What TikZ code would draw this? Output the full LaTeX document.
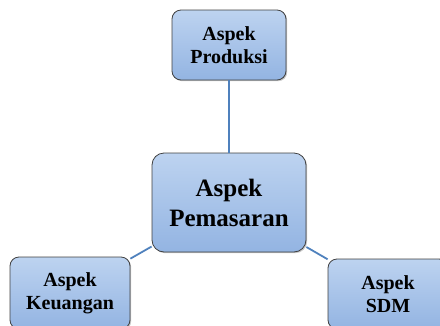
\documentclass[tikz,border=0pt]{standalone}
\usepackage{fontspec}
\setmainfont{Liberation Serif}
\usetikzlibrary{shadows}
\definecolor{kotakatas}{HTML}{BDD3F0}
\definecolor{kotakbawah}{HTML}{93B4E2}
\definecolor{garisbiru}{HTML}{4F81BD}
\tikzset{
  aspek/.style={draw=black!75,line width=.8pt,rounded corners=9pt,
    top color=kotakatas,bottom color=kotakbawah,align=center,
    font=\bfseries\fontsize{20}{23}\selectfont,
    drop shadow={shadow xshift=1.2pt,shadow yshift=-1.2pt,opacity=.45}},
  hubung/.style={draw=garisbiru,line width=1.8pt}
}
\begin{document}
\begin{tikzpicture}[x=1pt,y=-1pt]
\def\lebar{440}
\def\tinggi{325}
\useasboundingbox (0,0) rectangle (\lebar,\tinggi);
\clip (0,0) rectangle (\lebar,\tinggi);
% kotak-kotak aspek
\node[aspek,minimum width=114pt,minimum height=70pt] (produksi) at (229,45) {Aspek\\Produksi};
\node[aspek,minimum width=154pt,minimum height=99pt,rounded corners=12pt,
  font=\bfseries\fontsize{25}{30}\selectfont] (pemasaran) at (229,202.5) {Aspek\\Pemasaran};
\node[aspek,minimum width=120pt,minimum height=72pt] (keuangan) at (70,293) {Aspek\\Keuangan};
\node[aspek,minimum width=120pt,minimum height=70pt] (sdm) at (388,294) {Aspek\\SDM};
% garis penghubung
\draw[hubung] (pemasaran) -- (produksi);
\draw[hubung] (pemasaran) -- (keuangan);
\draw[hubung] (pemasaran) -- (sdm);
\end{tikzpicture}
\end{document}
